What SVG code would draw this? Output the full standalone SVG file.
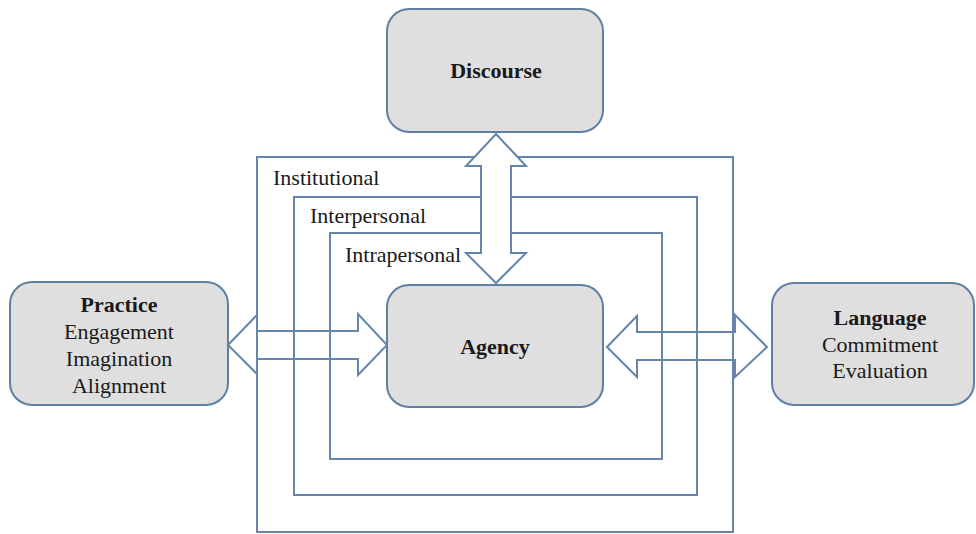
<svg xmlns="http://www.w3.org/2000/svg" width="976" height="534" viewBox="0 0 976 534">
<style>
.box{fill:#dfdfdf;stroke:#5f7fa3;stroke-width:2}
.frame{fill:none;stroke:#6585ab;stroke-width:2}
.arrow{fill:#ffffff;stroke:#6585ab;stroke-width:2;stroke-linejoin:miter}
text{font-family:"Liberation Serif","Times New Roman",serif;font-size:22px;fill:#1a1a1a}
.b{font-weight:bold}
.c{text-anchor:middle}
</style>
<rect width="976" height="534" fill="#ffffff"/>
<g id="connectors">
<polygon class="arrow" points="228,345 257,315 257,331 358,331 358,314 387,345 358,375 358,359 257,359 257,374"/>
<polygon class="arrow" points="607,347 637,316 637,332 735,332 735,315 767,347 735,377 735,360 637,360 637,377"/>
</g>
<g id="frames">
<rect id="institutional" class="frame" x="257" y="157" width="476" height="375"/>
<rect id="interpersonal" class="frame" x="294" y="197" width="403" height="298"/>
<rect id="intrapersonal" class="frame" x="330" y="233" width="332" height="226"/>
<text x="273" y="185">Institutional</text>
<text x="310" y="223">Interpersonal</text>
<text x="345" y="262">Intrapersonal</text>
</g>
<g id="vertical-arrow">
<polygon class="arrow" points="496,134 526,166 511,166 511,253 526,253 496,283 466,253 481,253 481,166 466,166"/>
</g>
<g id="discourse">
<rect class="box" x="387" y="9" width="216" height="123" rx="22"/>
<text class="b c" x="496" y="78">Discourse</text>
</g>
<g id="agency">
<rect class="box" x="387" y="285" width="216" height="122" rx="22"/>
<text class="b c" x="495" y="354">Agency</text>
</g>
<g id="practice">
<rect class="box" x="10" y="282" width="218" height="123" rx="22"/>
<text class="b c" x="119" y="312">Practice</text>
<text class="c" x="119" y="339">Engagement</text>
<text class="c" x="119" y="366">Imagination</text>
<text class="c" x="119" y="393">Alignment</text>
</g>
<g id="language">
<rect class="box" x="772" y="283" width="202" height="122" rx="22"/>
<text class="b c" x="880" y="325">Language</text>
<text class="c" x="880" y="352">Commitment</text>
<text class="c" x="880" y="378">Evaluation</text>
</g>
</svg>
